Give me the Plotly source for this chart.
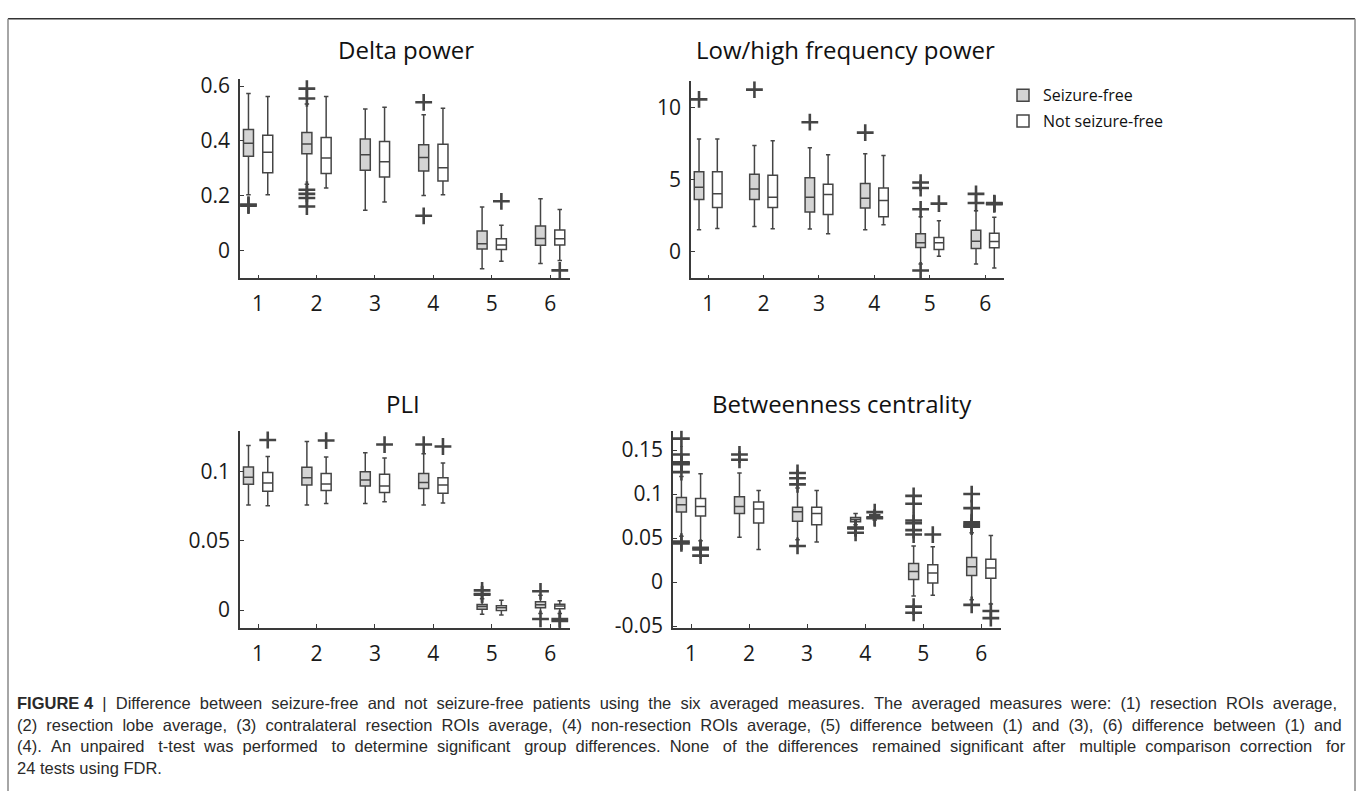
import plotly.graph_objects as go

W, H = 1357, 802

categories = ["1", "2", "3", "4", "5", "6"]
groups = ["Seizure-free", "Not seizure-free"]

# ---------------- Delta power ----------------
delta_sf_lower = [0.204, 0.242, 0.147, 0.201, -0.066, -0.047]
delta_sf_q1 = [0.344, 0.353, 0.293, 0.290, 0.006, 0.020]
delta_sf_median = [0.392, 0.389, 0.350, 0.340, 0.025, 0.044]
delta_sf_q3 = [0.442, 0.431, 0.407, 0.386, 0.072, 0.090]
delta_sf_upper = [0.573, 0.535, 0.517, 0.496, 0.159, 0.189]
delta_sf_out = [[0.168, 0.164], [0.591, 0.555, 0.222, 0.207, 0.192, 0.161], [], [0.541, 0.127], [], []]

delta_nsf_lower = [0.204, 0.228, 0.177, 0.204, -0.039, -0.036]
delta_nsf_q1 = [0.284, 0.281, 0.269, 0.254, 0.004, 0.021]
delta_nsf_median = [0.359, 0.338, 0.324, 0.302, 0.021, 0.043]
delta_nsf_q3 = [0.421, 0.413, 0.398, 0.388, 0.043, 0.075]
delta_nsf_upper = [0.562, 0.562, 0.523, 0.519, 0.093, 0.150]
delta_nsf_out = [[], [], [], [], [0.180], [-0.072]]

# ---------------- Low/high frequency power ----------------
lh_sf_lower = [1.51, 1.74, 1.56, 1.51, -0.86, -0.86]
lh_sf_q1 = [3.61, 3.61, 2.75, 3.02, 0.29, 0.22]
lh_sf_median = [4.45, 4.33, 3.77, 3.70, 0.61, 0.72]
lh_sf_q3 = [5.53, 5.35, 5.12, 4.72, 1.24, 1.47]
lh_sf_upper = [7.79, 7.34, 7.20, 6.77, 2.41, 2.82]
lh_sf_out = [[10.54], [11.22], [8.96], [8.24], [4.78, 4.40, 2.93, -1.31], [4.00, 3.36]]

lh_nsf_lower = [1.60, 1.58, 1.24, 1.85, -0.32, -1.13]
lh_nsf_q1 = [3.05, 3.05, 2.57, 2.41, 0.14, 0.27]
lh_nsf_median = [4.00, 3.77, 3.95, 3.54, 0.62, 0.70]
lh_nsf_q3 = [5.53, 5.28, 4.67, 4.40, 0.97, 1.27]
lh_nsf_upper = [7.79, 7.67, 6.70, 6.66, 2.14, 2.37]
lh_nsf_out = [[], [], [], [], [3.32], [3.36, 3.32, 3.28]]

# ---------------- PLI ----------------
pli_sf_lower = [0.0760, 0.0760, 0.0771, 0.0760, -0.0030, -0.0024]
pli_sf_q1 = [0.0910, 0.0905, 0.0897, 0.0880, 0.0007, 0.0017]
pli_sf_median = [0.0960, 0.0957, 0.0940, 0.0923, 0.0026, 0.0038]
pli_sf_q3 = [0.1035, 0.1033, 0.1000, 0.0988, 0.0040, 0.0060]
pli_sf_upper = [0.1190, 0.1220, 0.1138, 0.1130, 0.0083, 0.0107]
pli_sf_out = [[], [], [], [0.1197], [0.0143, 0.0116, 0.0112], [0.0136, -0.0064]]

pli_nsf_lower = [0.0755, 0.0771, 0.0783, 0.0774, -0.0036, -0.0024]
pli_nsf_q1 = [0.0860, 0.0864, 0.0850, 0.0845, -0.0002, 0.0010]
pli_nsf_median = [0.0920, 0.0912, 0.0897, 0.0904, 0.0017, 0.0029]
pli_nsf_q3 = [0.0995, 0.0988, 0.0983, 0.0957, 0.0031, 0.0043]
pli_nsf_upper = [0.1110, 0.1107, 0.1100, 0.1064, 0.0071, 0.0067]
pli_nsf_out = [[0.1230], [0.1226], [0.1197], [0.1183], [], [-0.0064, -0.0079]]

# ---------------- Betweenness centrality ----------------
bc_sf_lower = [0.052, 0.051, 0.048, 0.065, -0.016, -0.020]
bc_sf_q1 = [0.0796, 0.078, 0.069, 0.0685, 0.003, 0.0074]
bc_sf_median = [0.088, 0.086, 0.080, 0.071, 0.012, 0.0174]
bc_sf_q3 = [0.096, 0.097, 0.085, 0.0735, 0.021, 0.028]
bc_sf_upper = [0.120, 0.124, 0.107, 0.078, 0.041, 0.056]
bc_sf_out = [[0.163, 0.145, 0.136, 0.135, 0.134, 0.125, 0.046, 0.044],
             [0.145, 0.139],
             [0.124, 0.118, 0.111, 0.041],
             [0.062, 0.0615, 0.061, 0.056],
             [0.098, 0.089, 0.070, 0.067, 0.059, 0.054, -0.028, -0.035],
             [0.100, 0.084, 0.068, 0.066, 0.064, 0.063, -0.026]]

bc_nsf_lower = [0.047, 0.037, 0.0455, 0.0705, -0.015, -0.025]
bc_nsf_q1 = [0.075, 0.067, 0.065, 0.0725, -0.001, 0.0044]
bc_nsf_median = [0.086, 0.083, 0.078, 0.0755, 0.0104, 0.016]
bc_nsf_q3 = [0.095, 0.091, 0.085, 0.0765, 0.0196, 0.026]
bc_nsf_upper = [0.123, 0.104, 0.104, 0.079, 0.040, 0.053]
bc_nsf_out = [[0.039, 0.037, 0.030], [], [], [0.0795, 0.0735, 0.0725], [0.054], [-0.033, -0.041]]

titles = ["Delta power", "Low/high frequency power", "PLI", "Betweenness centrality"]

panels = [
    dict(sf=(delta_sf_lower, delta_sf_q1, delta_sf_median, delta_sf_q3, delta_sf_upper, delta_sf_out),
         nsf=(delta_nsf_lower, delta_nsf_q1, delta_nsf_median, delta_nsf_q3, delta_nsf_upper, delta_nsf_out),
         yrange=[-0.1014, 0.625], tickvals=[0, 0.2, 0.4, 0.6], ticktext=["0", "0.2", "0.4", "0.6"],
         box_px=(240, 570, 73, 277), title_px=(406, 43)),
    dict(sf=(lh_sf_lower, lh_sf_q1, lh_sf_median, lh_sf_q3, lh_sf_upper, lh_sf_out),
         nsf=(lh_nsf_lower, lh_nsf_q1, lh_nsf_median, lh_nsf_q3, lh_nsf_upper, lh_nsf_out),
         yrange=[-1.86, 11.8], tickvals=[0, 5, 10], ticktext=["0", "5", "10"],
         box_px=(691, 1004, 75, 277), title_px=(845, 43)),
    dict(sf=(pli_sf_lower, pli_sf_q1, pli_sf_median, pli_sf_q3, pli_sf_upper, pli_sf_out),
         nsf=(pli_nsf_lower, pli_nsf_q1, pli_nsf_median, pli_nsf_q3, pli_nsf_upper, pli_nsf_out),
         yrange=[-0.0129, 0.1297], tickvals=[0, 0.05, 0.1], ticktext=["0", "0.05", "0.1"],
         box_px=(240, 570, 433, 635), title_px=(403, 405)),
    dict(sf=(bc_sf_lower, bc_sf_q1, bc_sf_median, bc_sf_q3, bc_sf_upper, bc_sf_out),
         nsf=(bc_nsf_lower, bc_nsf_q1, bc_nsf_median, bc_nsf_q3, bc_nsf_upper, bc_nsf_out),
         yrange=[-0.0522, 0.172], tickvals=[-0.05, 0, 0.05, 0.1, 0.15],
         ticktext=["-0.05", "0", "0.05", "0.1", "0.15"],
         box_px=(673, 1001, 433, 635), title_px=(842, 405)),
]

caption_lines = [
    "<b>FIGURE 4</b> | Difference between seizure-free and not seizure-free patients using the six averaged measures. The averaged measures were: (1) resection ROIs average,",
    "(2) resection lobe average, (3) contralateral resection ROIs average, (4) non-resection ROIs average, (5) difference between (1) and (3), (6) difference between (1) and",
    "(4). An unpaired t-test was performed to determine significant group differences. None of the differences remained significant after multiple comparison correction for",
    "24 tests using FDR.",
]
# extra spacing per word gap (emulates the justified caption): base, plus every n-th gap one more
caption_justify = [(1, 0), (1, 0), (1, 3), (0, 0)]

SF_FILL = "#d4d4d4"
NSF_FILL = "#ffffff"
LINE = "#454545"
AX = "#3a3a3a"
FONT = "Open Sans"

fig = go.Figure()
layout = dict()

for k, p in enumerate(panels):
    n = "" if k == 0 else str(k + 1)
    xa, ya = "x" + n, "y" + n
    for gname, key, fill, og in [(groups[0], "sf", SF_FILL, "sf"), (groups[1], "nsf", NSF_FILL, "nsf")]:
        lo, q1, med, q3, up, out = p[key]
        fig.add_trace(go.Box(
            name=gname, x=categories, q1=q1, median=med, q3=q3,
            lowerfence=lo, upperfence=up, boxpoints=False,
            fillcolor=fill, line=dict(color=LINE, width=1.5), whiskerwidth=0.45,
            offsetgroup=og, xaxis=xa, yaxis=ya, legendgroup=gname,
            showlegend=(k == 0), hoverinfo="skip",
        ))
    for gname, key, og in [(groups[0], "sf", "sf"), (groups[1], "nsf", "nsf")]:
        out = p[key][5]
        ox, oy = [], []
        for c, vals in zip(categories, out):
            ox += [c] * len(vals)
            oy += list(vals)
        fig.add_trace(go.Scatter(
            x=ox, y=oy, mode="markers", orientation="v", offsetgroup=og,
            marker=dict(symbol="cross-thin", size=12, line=dict(color=LINE, width=2.6)),
            xaxis=xa, yaxis=ya, showlegend=False, legendgroup=gname, hoverinfo="skip",
        ))
    x0, x1, yt, yb = p["box_px"]
    layout["xaxis" + n] = dict(
        domain=[x0 / W, x1 / W], anchor=ya, type="category", categoryorder="array",
        categoryarray=categories, range=[-0.31, 5.34], showline=True, linecolor=AX, linewidth=1.5,
        ticks="inside", ticklen=4, tickwidth=1, tickcolor=AX, showgrid=False, zeroline=False,
        tickfont=dict(family=FONT, size=21, color="#1a1a1a"), ticklabelstandoff=6,
    )
    layout["yaxis" + n] = dict(
        domain=[1 - yb / H, 1 - yt / H], anchor=xa, range=p["yrange"], tickmode="array",
        tickvals=p["tickvals"], ticktext=p["ticktext"], showline=True, linecolor=AX, linewidth=1.5,
        ticks="inside", ticklen=4, tickwidth=1, tickcolor=AX, showgrid=False, zeroline=False,
        tickfont=dict(family=FONT, size=21, color="#1a1a1a"), ticklabelstandoff=4,
    )

annotations = []
for k, p in enumerate(panels):
    tx, ty = p["title_px"]
    annotations.append(dict(text=titles[k], x=tx / W, y=1 - ty / H, xref="paper", yref="paper",
                            xanchor="center", yanchor="middle", showarrow=False,
                            font=dict(family=FONT, size=24, color="#111111")))


def spread(line, base, every):
    head = ""
    if line.startswith("<b>"):
        end = line.index("</b>") + 4
        head, line = line[:end], line[end:]
    words = line.split(" ")
    out = words[0]
    for i, w in enumerate(words[1:], start=1):
        extra = base + (1 if every and i % every == 0 else 0)
        out += " " + "\u00a0" * extra + w
    return head + out


cap_y = [712, 734, 756, 778]
for line, cy, (base, every) in zip(caption_lines, cap_y, caption_justify):
    annotations.append(dict(text=spread(line, base, every), x=15 / W, y=1 - cy / H,
                            xref="paper", yref="paper", xanchor="left", yanchor="middle",
                            showarrow=False,
                            font=dict(family="Liberation Sans", size=16.5, color="#2a2a2a")))

shapes = [
    dict(type="line", xref="paper", yref="paper", x0=8 / W, x1=1355 / W, y0=1 - 11 / H, y1=1 - 11 / H,
         line=dict(color="#333333", width=1.5)),
    dict(type="line", xref="paper", yref="paper", x0=8 / W, x1=8 / W, y0=1 - 11 / H, y1=0,
         line=dict(color="#888888", width=1.5)),
    dict(type="line", xref="paper", yref="paper", x0=1355 / W, x1=1355 / W, y0=1 - 11 / H, y1=0,
         line=dict(color="#888888", width=1.5)),
]

fig.update_layout(
    width=W, height=H, margin=dict(l=0, r=0, t=0, b=0),
    paper_bgcolor="white", plot_bgcolor="white",
    boxmode="group", boxgap=0.34, boxgroupgap=0.48,
    scattermode="group", scattergap=0.34,
    legend=dict(x=1003 / W, y=1 - 72 / H, xanchor="left", yanchor="top",
                font=dict(family=FONT, size=16, color="#111111"), bgcolor="rgba(0,0,0,0)",
                tracegroupgap=2, itemclick=False),
    annotations=annotations, shapes=shapes, showlegend=True,
    **layout,
)

fig.write_html("out.html", config={"displayModeBar": False},
               post_script="document.body.style.margin='0px';")
